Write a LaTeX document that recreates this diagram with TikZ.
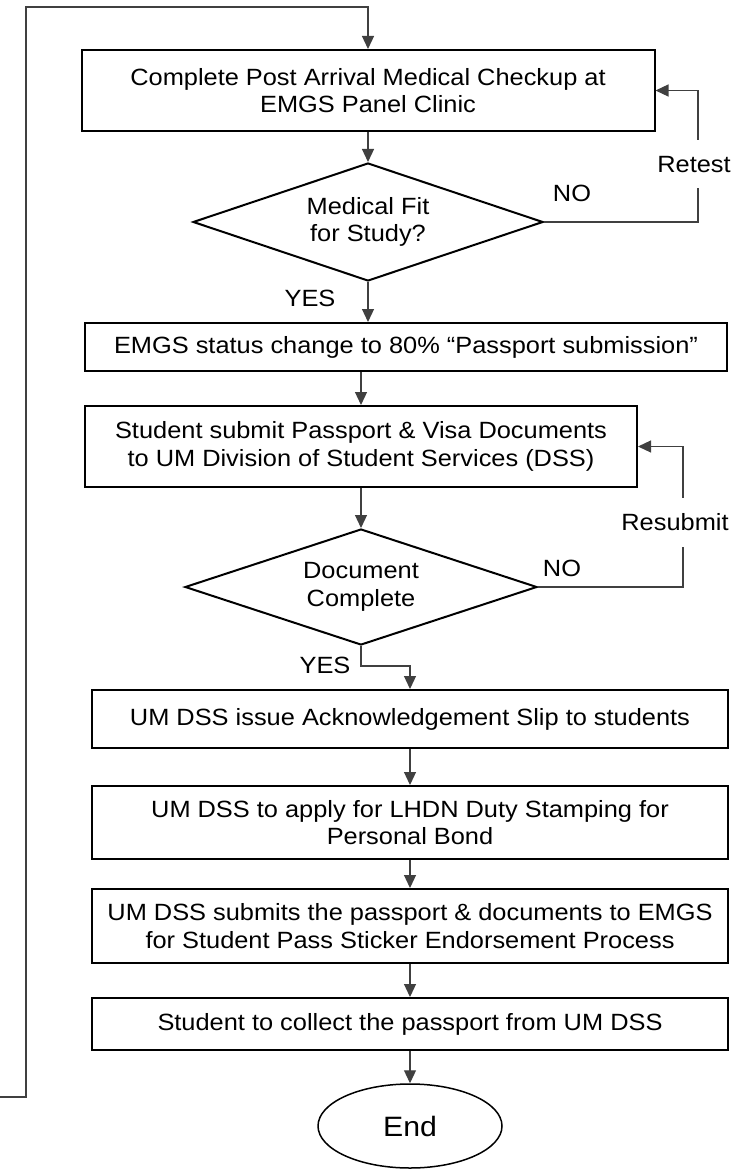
\documentclass[tikz,border=0pt]{standalone}
\usepackage{fontspec}
\setmainfont{Liberation Sans}[FakeStretch=1.08]
\usetikzlibrary{shapes.geometric, arrows.meta}

\begin{document}
\begin{tikzpicture}[x=1pt, y=-1pt,
  every node/.style={font=\fontsize{23.5}{27.5}\selectfont},
  stepbox/.style 2 args={draw, line width=2pt, minimum width=#1, minimum height=#2, inner sep=0pt, align=center},
  decision/.style 2 args={diamond, draw, line width=2pt, shape aspect=3, minimum width=#1, minimum height=#2, inner sep=0pt, align=center},
  flow/.style={draw=black!75, line width=1.2pt, -{Triangle[length=13pt, width=12pt]}},
  gaplbl/.style={fill=white, inner xsep=1pt, inner ysep=16pt}]
  \useasboundingbox (0,0) rectangle (751,1169);

  % Medical check
  \node[stepbox={573}{81}] (medical) at (368,90.5) {Complete Post Arrival Medical Checkup at\\EMGS Panel Clinic};
  \node[decision={350}{118}] (fit) at (368,222) {Medical Fit\\for Study?};
  \node (no1) at (572,193) {NO};
  \node (yes1) at (310,298) {YES};

  % Passport submission
  \node[stepbox={642}{48}] (status) at (406,347) {EMGS status change to 80\% “Passport submission”};
  \node[stepbox={552}{81}] (submit) at (361,446.5) {Student submit Passport \& Visa Documents\\to UM Division of Student Services (DSS)};
  \node[decision={352}{116}] (complete) at (361,587) {Document\\Complete};
  \node (no2) at (562,568) {NO};
  \node (yes2) at (325,665) {YES};

  % DSS steps
  \node[stepbox={636}{58}] (slip) at (410,719) {UM DSS issue Acknowledgement Slip to students};
  \node[stepbox={636}{73}] (stamp) at (410,822.5) {UM DSS to apply for LHDN Duty Stamping for\\Personal Bond};
  \node[stepbox={636}{74}] (sticker) at (410,926) {UM DSS submits the passport \& documents to EMGS\\for Student Pass Sticker Endorsement Process};
  \node[stepbox={636}{52}] (collect) at (410,1024) {Student to collect the passport from UM DSS};
  \node[ellipse, draw, line width=1.5pt, minimum width=184, minimum height=84, inner sep=0pt,
        font=\fontsize{28}{32}\selectfont] (end) at (410,1126) {End};

  % Loop back to the top
  \coordinate (loopin) at (0,1097);
  \coordinate (looptop) at (26,7);
  \draw[flow] (loopin) -| (looptop) -| (medical.north);

  % Connectors
  \draw[flow] (medical.south) -- (fit.north);
  \draw[flow] (fit.east) -- ++(154,0) |- node[gaplbl, pos=0.22, xshift=-4pt] (retest) {Retest} (medical.east);
  \draw[flow] (fit.south) -- (fit.south |- status.north);
  \draw[flow] (submit.north |- status.south) -- (submit.north);
  \draw[flow] (submit.south) -- (complete.north);
  \draw[flow] (complete.east) -- ++(145,0) |- node[gaplbl, pos=0.23, xshift=-8pt] (resubmit) {Resubmit} (submit.east);
  \draw[flow] (complete.south) -- ++(0,20) -| (slip.north);
  \draw[flow] (slip.south) -- (stamp.north);
  \draw[flow] (stamp.south) -- (sticker.north);
  \draw[flow] (sticker.south) -- (collect.north);
  \draw[flow] (collect.south) -- (end.north);
\end{tikzpicture}
\end{document}
